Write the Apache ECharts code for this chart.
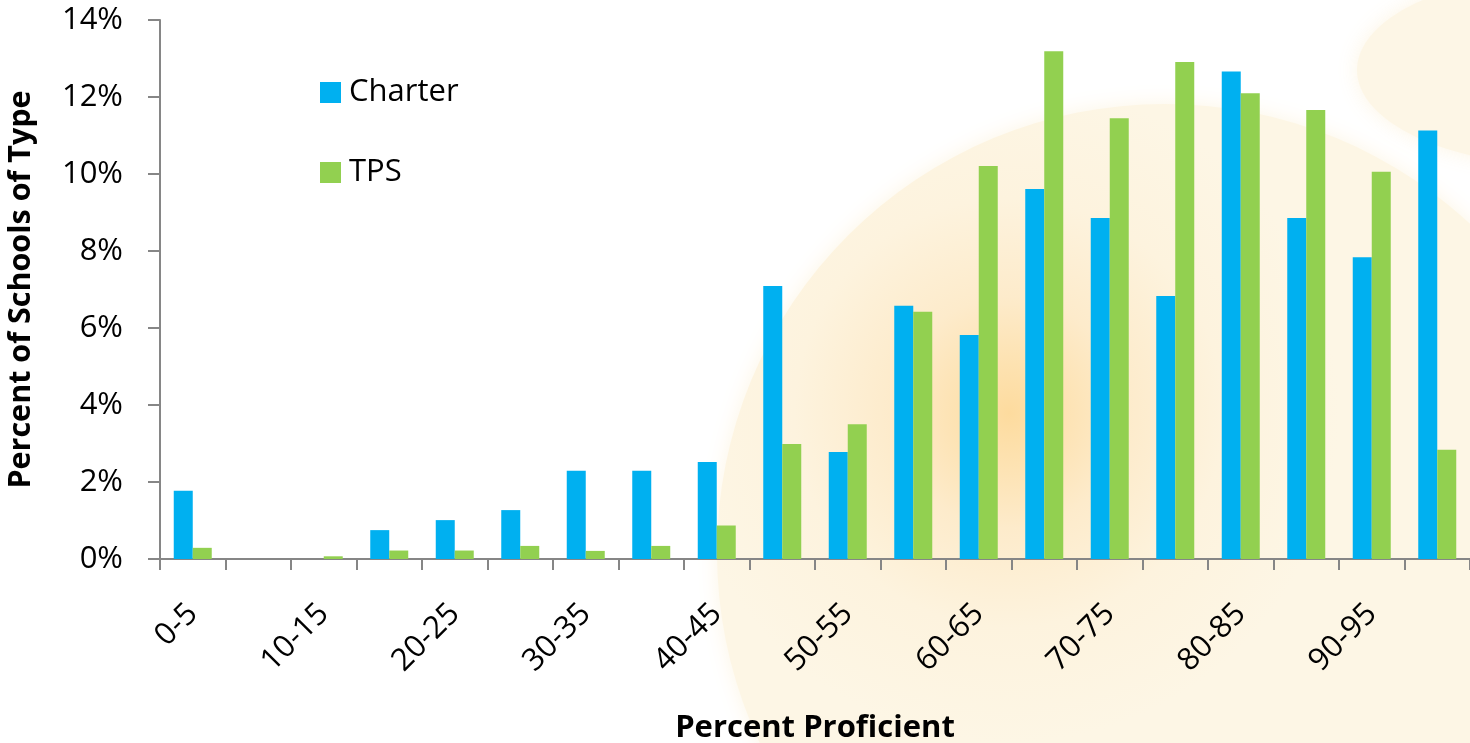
<!DOCTYPE html>
<html>
<head>
<meta charset="utf-8">
<script src="https://cdn.jsdelivr.net/npm/echarts@6/dist/echarts.min.js"></script>
<style>
html,body{margin:0;padding:0;background:#fff;}
#c{width:1470px;height:743px;}
</style>
</head>
<body>
<div id="c"></div>
<script>
var categories = ['0-5','5-10','10-15','15-20','20-25','25-30','30-35','35-40','40-45','45-50','50-55','55-60','60-65','65-70','70-75','75-80','80-85','85-90','90-95','95-100'];
var charter = [1.77, 0, 0, 0.75, 1.01, 1.27, 2.29, 2.29, 2.52, 7.09, 2.78, 6.58, 5.82, 9.61, 8.86, 6.83, 12.66, 8.86, 7.84, 11.13];
var tps = [0.29, 0, 0.07, 0.22, 0.22, 0.34, 0.21, 0.34, 0.87, 2.99, 3.50, 6.42, 10.21, 13.19, 11.45, 12.91, 12.10, 11.66, 10.06, 2.84];
var seriesNames = ['Charter', 'TPS'];
var yTicks = [0, 2, 4, 6, 8, 10, 12, 14];

var FONT = '"Open Sans", "Noto Sans", sans-serif';
var chart = echarts.init(document.getElementById('c'));
chart.setOption({
  animation: false,
  backgroundColor: '#ffffff',
  textStyle: {fontFamily: FONT},
  graphic: [
    {type: 'circle', z: -5, silent: true, shape: {cx: 1165, cy: 552, r: 448},
     style: {shadowBlur: 20, shadowColor: 'rgba(253,243,222,0.8)',
       fill: {type: 'radial', x: 1009, y: 413, r: 330, global: true,
       colorStops: [{offset: 0, color: '#fddb9e'}, {offset: 0.15, color: '#fde2b1'}, {offset: 0.35, color: '#fdebcb'}, {offset: 0.65, color: '#fdf3de'}, {offset: 1, color: '#fdf6e5'}]}}},
    {type: 'circle', z: -5, silent: true, x: 1560, y: 70, scaleX: 2.03, scaleY: 0.95, shape: {cx: 0, cy: 0, r: 100},
     style: {fill: '#fdf6e6', shadowBlur: 20, shadowColor: 'rgba(253,244,225,0.9)'}}
  ],
  legend: {
    orient: 'vertical',
    left: 315,
    top: 72,
    itemWidth: 21,
    itemHeight: 21,
    itemGap: 49,
    icon: 'rect',
    data: seriesNames,
    textStyle: {fontSize: 31, color: '#000', fontFamily: FONT, lineHeight: 30, padding: [0, 0, 0, 3]}
  },
  grid: {left: 160, right: 0, top: 20, bottom: 184, containLabel: false, outerBoundsMode: 'none'},
  xAxis: {
    type: 'category',
    data: categories,
    boundaryGap: true,
    name: 'Percent Proficient',
    nameLocation: 'middle',
    nameGap: 154,
    nameTextStyle: {fontSize: 31, fontWeight: 'bold', color: '#000', fontFamily: FONT},
    axisLine: {show: true, lineStyle: {color: '#868686', width: 2}},
    axisTick: {show: true, interval: 0, length: 11, lineStyle: {color: '#868686', width: 2}},
    axisLabel: {interval: 1, rotate: 45, margin: 50, fontSize: 31, color: '#000', fontFamily: FONT},
    splitLine: {show: false}
  },
  yAxis: {
    type: 'value',
    min: 0,
    max: 14,
    interval: 2,
    name: 'Percent of Schools of Type',
    nameLocation: 'middle',
    nameGap: 123,
    nameTextStyle: {fontSize: 30.5, fontWeight: 'bold', color: '#000', fontFamily: FONT},
    axisLine: {show: true, lineStyle: {color: '#868686', width: 2}},
    axisTick: {show: true, length: 12, lineStyle: {color: '#868686', width: 2}},
    axisLabel: {margin: 37, fontSize: 31, color: '#000', fontFamily: FONT,
      formatter: function (v) { return yTicks.indexOf(v) >= 0 ? v + '%' : ''; }},
    splitLine: {show: false}
  },
  series: [
    {name: seriesNames[0], type: 'bar', data: charter, barWidth: 19, barGap: '0%', itemStyle: {color: '#00b0f0'}},
    {name: seriesNames[1], type: 'bar', data: tps, barWidth: 19, barGap: '0%', itemStyle: {color: '#92d050'}}
  ]
});
</script>
</body>
</html>
